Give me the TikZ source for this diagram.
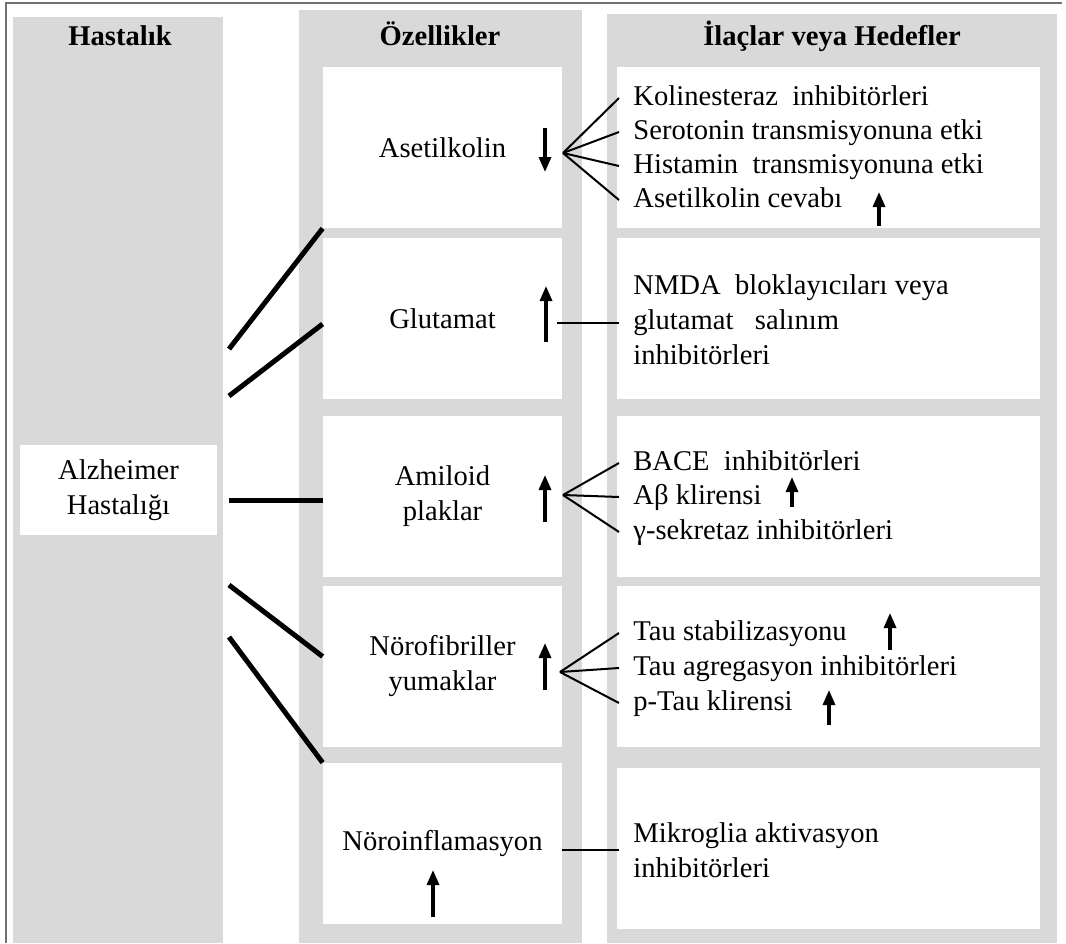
\documentclass[tikz,border=0pt]{standalone}
\usepackage{fontspec}
\setmainfont{Liberation Serif}
\usepackage{tikz}
\usetikzlibrary{arrows.meta}
\usetikzlibrary{calc}
\definecolor{colgrey}{HTML}{D9D9D9}
\definecolor{framegrey}{HTML}{707070}
\newcommand\cellfont{\fontsize{14.3}{17.5}\selectfont}

\begin{document}
\begin{tikzpicture}[x=0.5pt,y=-0.5pt,font=\cellfont,
        greycol/.style={fill=colgrey},
        cell/.style={fill=white,inner sep=0pt,minimum height=80.5pt,align=center},
        midcell/.style={cell,minimum width=119.5pt},
        drugcell/.style={cell,minimum width=211.5pt},
        coltitle/.style={font=\cellfont\bfseries,text height=10pt,text depth=3pt},
        item/.style={anchor=west,inner xsep=7pt,inner ysep=0pt,text height=10pt,text depth=3pt,align=left},
        trend/.style={-{Triangle[width=6pt,length=7.5pt]},line width=1.6pt},
        link/.style={line width=2.5pt},
        fanline/.style={line width=1pt}]
        \useasboundingbox (0,0) rectangle (1066,943);

        %%% COLUMNS %%%
        \fill[greycol] (13,17) rectangle (223,943);
        \fill[greycol] (299,10) rectangle (582,943);
        \fill[greycol] (607,14) rectangle (1057,943);
        \draw[framegrey,line width=1pt] (6,943) -- (6,3) -- (1062,3);

        \node[coltitle] (hHast) at (120,38) {Hastalık};
        \node[coltitle] (hOzel) at (440,38) {Özellikler};
        \node[coltitle] (hIlac) at (832,38) {İlaçlar veya Hedefler};

        %%% DISEASE %%%
        \node[cell,minimum width=98.5pt,minimum height=45pt] (alz) at (118.5,490) {Alzheimer\\Hastalığı};

        %%% FEATURES %%%
        \node[midcell] (ace) at (442.5,147.5) {Asetilkolin};
        \node[midcell] (glu) at (442.5,318.5) {\raisebox{-2pt}{Glutamat}};
        \node[midcell] (ami) at (442.5,496) {Amiloid\\plaklar};
        \node[midcell] (nfy) at (442.5,666.5) {Nörofibriller\\yumaklar};
        \node[midcell] (nin) at (442.5,843.5) {\raisebox{-1.5pt}{Nöroinflamasyon}};

        \draw[trend] (545,128) -- (545,172);
        \draw[trend] (546,342) -- (546,286);
        \draw[trend] (545,522) -- (545,475);
        \draw[trend] (545,690) -- (545,643);
        \draw[trend] (433,917) -- (433,870);

        %%% DRUGS OR TARGETS %%%
        \node[drugcell] (c1) at (828.5,147.5) {};
        \node[drugcell] (c2) at (828.5,318.5) {};
        \node[drugcell] (c3) at (828.5,496) {};
        \node[drugcell] (c4) at (828.5,666.5) {};
        \node[drugcell] (c5) at (828.5,848) {};

        \node[item] (k1) at (619,98) {Kolinesteraz\ \ inhibitörleri};
        \node[item] (k2) at (619,132) {Serotonin transmisyonuna etki};
        \node[item] (k3) at (619,166) {Histamin\ \ transmisyonuna etki};
        \node[item] (k4) at (619,200) {Asetilkolin cevabı};
        \draw[trend] (879,226) -- (879,192);

        \node[item,text height=,text depth=] (nmda) at (619,320) {NMDA\ \ bloklayıcıları veya\\glutamat\ \ \ salınım\\inhibitörleri};

        \node[item] (b1) at (619,463) {BACE\ \ inhibitörleri};
        \node[item] (b2) at (619,497) {Aβ klirensi};
        \node[item] (b3) at (619,532) {γ-sekretaz inhibitörleri};
        \draw[trend] (792,507) -- (792,477);

        \node[item] (t1) at (619,633) {Tau stabilizasyonu};
        \node[item] (t2) at (619,668) {Tau agregasyon inhibitörleri};
        \node[item] (t3) at (619,703) {p-Tau klirensi};
        \draw[trend] (890,650) -- (890,613);
        \draw[trend] (829,725) -- (829,690);

        \node[item,text height=,text depth=] (mik) at (619,850) {Mikroglia aktivasyon\\inhibitörleri};

        %%% LINKS %%%
        \coordinate (s1) at (229,349);
        \coordinate (s2) at (229,396);
        \coordinate (s3) at (229,500);
        \coordinate (s4) at (229,585);
        \coordinate (s5) at (229,637);
        \draw[link] (s1) -- (ace.south west);
        \draw[link] (s2) -- ([yshift=-2.75pt]glu.west);
        \draw[link] (s3) -- ([yshift=-2pt]ami.west);
        \draw[link] (s4) -- ([yshift=5pt]nfy.west);
        \draw[link] (s5) -- (nin.north west);

        \coordinate (aceF) at (563,153);
        \foreach \n in {k1,k2,k3,k4} \draw[fanline] (aceF) -- (\n.west);
        \coordinate (gluR) at (557,323);
        \draw[fanline] (gluR) -- (gluR -| nmda.west);
        \coordinate (amiF) at (563,495);
        \foreach \n in {b1,b2,b3} \draw[fanline] (amiF) -- (\n.west);
        \coordinate (nfyF) at (560,672);
        \foreach \n in {t1,t2,t3} \draw[fanline] (nfyF) -- (\n.west);
        \draw[fanline] (nin.east |- mik.west) -- (mik.west);
    \end{tikzpicture}
\end{document}
